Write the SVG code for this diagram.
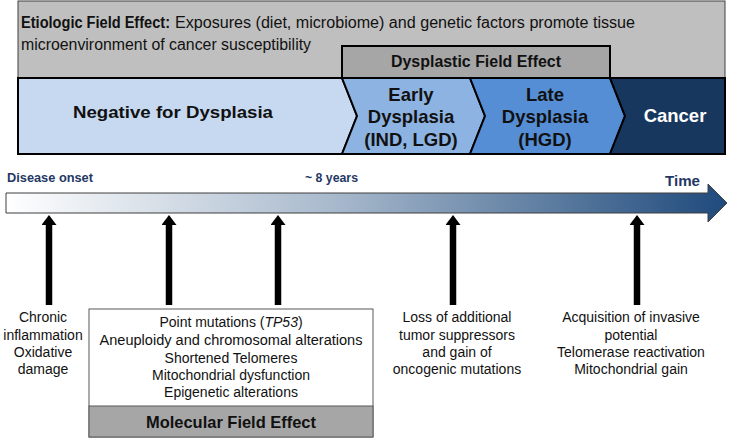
<svg xmlns="http://www.w3.org/2000/svg" width="729" height="439" viewBox="0 0 729 439">
<style>
.sans{font-family:"Liberation Sans",Arial,sans-serif}
.cal{font-family:"Liberation Sans",Arial,sans-serif}
.b{font-weight:bold}
.stage{font-family:"Liberation Sans",Arial,sans-serif;font-weight:bold;font-size:18.5px;text-anchor:middle;fill:#111}
.lbl{font-family:"Liberation Sans",Arial,sans-serif;font-size:14px;text-anchor:middle;fill:#111}
.nav{font-family:"Liberation Sans",Arial,sans-serif;font-weight:bold;fill:#1F3864}
.band{stroke:#000;stroke-width:2}
</style>
<defs>
<linearGradient id="tl" x1="0" y1="0" x2="1" y2="0">
<stop offset="0" stop-color="#FFFFFF"/>
<stop offset="0.45" stop-color="#A9BACD"/>
<stop offset="1" stop-color="#1F4A7C"/>
</linearGradient>
<marker id="ah" markerUnits="userSpaceOnUse" markerWidth="10" markerHeight="15" viewBox="0 0 10 15" refX="0" refY="7.5" orient="auto">
<path d="M0,0 L10,7.5 L0,15 z" fill="#000"/>
</marker>
</defs>

<g id="etiologic">
<rect x="18" y="1" width="707" height="77" fill="#BFBFBF" stroke="#404040" stroke-width="1"/>
<text class="cal b" x="21" y="28" font-size="16" fill="#111" textLength="149" lengthAdjust="spacingAndGlyphs">Etiologic Field Effect:</text>
<text class="cal" x="175" y="28" font-size="16" fill="#111" textLength="460" lengthAdjust="spacingAndGlyphs">Exposures  (diet, microbiome) and genetic factors promote tissue</text>
<text class="cal" x="21" y="50" font-size="16" fill="#111" textLength="290" lengthAdjust="spacingAndGlyphs">microenvironment  of cancer susceptibility</text>
</g>

<g id="dysplastic">
<rect x="342" y="46" width="268" height="32" fill="#A6A6A6" stroke="#000" stroke-width="2"/>
<text class="cal b" x="476" y="67" font-size="16" text-anchor="middle" fill="#111" textLength="170" lengthAdjust="spacingAndGlyphs">Dysplastic Field Effect</text>
</g>

<g id="negative">
<polygon class="band" points="18,78 342,78 357,116 342,154 18,154" fill="#C6D9F1"/>
<text class="sans b" x="173" y="118" font-size="17" text-anchor="middle" fill="#111" textLength="200" lengthAdjust="spacingAndGlyphs">Negative for Dysplasia</text>
</g>

<g id="early">
<polygon class="band" points="342,78 470,78 485,116 470,154 342,154 357,116" fill="#8DB3E2"/>
<text class="stage" x="411" y="101">Early</text>
<text class="stage" x="411" y="123">Dysplasia</text>
<text class="stage" x="411" y="146">(IND, LGD)</text>
</g>

<g id="late">
<polygon class="band" points="470,78 610,78 625,116 610,154 470,154 485,116" fill="#558ED5"/>
<text class="stage" x="545" y="101">Late</text>
<text class="stage" x="545" y="123">Dysplasia</text>
<text class="stage" x="545" y="146">(HGD)</text>
</g>

<g id="cancer">
<polygon class="band" points="610,78 725,78 725,154 610,154 625,116" fill="#17375E"/>
<text class="stage" x="675" y="122" style="fill:#FFFFFF">Cancer</text>
</g>

<g id="timeline">
<polygon points="6,193 708,193 708,184 727,203 708,222 708,213 6,213" fill="url(#tl)" stroke="#3F3F3F" stroke-width="1"/>
<text class="nav" x="7" y="182" font-size="12" textLength="86" lengthAdjust="spacingAndGlyphs">Disease onset</text>
<text class="nav" x="305" y="182" font-size="12" textLength="53" lengthAdjust="spacingAndGlyphs">~ 8 years</text>
<text class="nav" x="665" y="186" font-size="15.5" textLength="35" lengthAdjust="spacingAndGlyphs">Time</text>
</g>

<g id="connectors" stroke="#000" stroke-width="6.5" marker-end="url(#ah)">
<line x1="49" y1="305" x2="49" y2="225"/>
<line x1="169" y1="305" x2="169" y2="225"/>
<line x1="278" y1="305" x2="278" y2="225"/>
<line x1="453" y1="305" x2="453" y2="225"/>
<line x1="637" y1="305" x2="637" y2="225"/>
</g>

<g id="inflammation">
<text class="lbl" x="43" y="322">Chronic</text>
<text class="lbl" x="43" y="340">inflammation</text>
<text class="lbl" x="43" y="357">Oxidative</text>
<text class="lbl" x="43" y="374">damage</text>
</g>

<g id="molecular">
<rect x="89" y="309" width="284" height="128" fill="#FFFFFF" stroke="#595959" stroke-width="1"/>
<rect x="89" y="406" width="284" height="31" fill="#A6A6A6" stroke="#595959" stroke-width="1"/>
<text class="lbl" x="231" y="327">Point mutations (<tspan font-style="italic">TP53</tspan>)</text>
<text class="lbl" x="231" y="345" textLength="263" lengthAdjust="spacingAndGlyphs">Aneuploidy and chromosomal alterations</text>
<text class="lbl" x="231" y="363">Shortened Telomeres</text>
<text class="lbl" x="231" y="380">Mitochondrial dysfunction</text>
<text class="lbl" x="231" y="397">Epigenetic alterations</text>
<text class="cal b" x="231" y="428" font-size="17" text-anchor="middle" fill="#111" textLength="170" lengthAdjust="spacingAndGlyphs">Molecular Field Effect</text>
</g>

<g id="loss">
<text class="lbl" x="457" y="322">Loss of additional</text>
<text class="lbl" x="457" y="340">tumor suppressors</text>
<text class="lbl" x="457" y="357">and gain of</text>
<text class="lbl" x="457" y="374">oncogenic mutations</text>
</g>

<g id="invasive">
<text class="lbl" x="631" y="322">Acquisition of invasive</text>
<text class="lbl" x="631" y="340">potential</text>
<text class="lbl" x="631" y="357">Telomerase reactivation</text>
<text class="lbl" x="631" y="374">Mitochondrial gain</text>
</g>
</svg>
